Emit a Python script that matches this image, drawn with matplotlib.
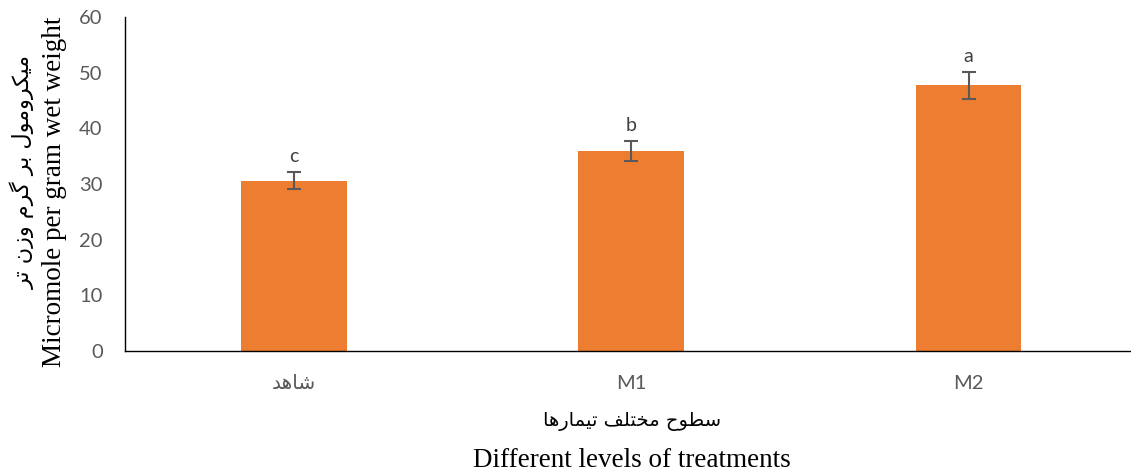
import matplotlib
matplotlib.use("Agg")
from matplotlib import pyplot as plt
import numpy as np

# data
categories = ["شاهد", "M1", "M2"]
values = [30.6, 35.9, 47.7]
errors = [1.5, 1.8, 2.4]
letters = ["c", "b", "a"]
y_ticks = [0, 10, 20, 30, 40, 50, 60]

xlabel_fa = "سطوح مختلف تیمارها"
xlabel_en = "Different levels of treatments"
ylabel_fa = "میکرومول بر گرم وزن تر"
ylabel_en = "Micromole per gram wet weight"

# matplotlib does no arabic shaping, so map letters to presentation forms
# forms: isolated, final, initial, medial (None = does not join to the left)
FORMS = {
    "ا": ("\uFE8D", "\uFE8E", None, None),
    "ب": ("\uFE8F", "\uFE90", "\uFE91", "\uFE92"),
    "ت": ("\uFE95", "\uFE96", "\uFE97", "\uFE98"),
    "ح": ("\uFEA1", "\uFEA2", "\uFEA3", "\uFEA4"),
    "خ": ("\uFEA5", "\uFEA6", "\uFEA7", "\uFEA8"),
    "د": ("\uFEA9", "\uFEAA", None, None),
    "ر": ("\uFEAD", "\uFEAE", None, None),
    "ز": ("\uFEAF", "\uFEB0", None, None),
    "س": ("\uFEB1", "\uFEB2", "\uFEB3", "\uFEB4"),
    "ش": ("\uFEB5", "\uFEB6", "\uFEB7", "\uFEB8"),
    "ط": ("\uFEC1", "\uFEC2", "\uFEC3", "\uFEC4"),
    "ف": ("\uFED1", "\uFED2", "\uFED3", "\uFED4"),
    "ل": ("\uFEDD", "\uFEDE", "\uFEDF", "\uFEE0"),
    "م": ("\uFEE1", "\uFEE2", "\uFEE3", "\uFEE4"),
    "ن": ("\uFEE5", "\uFEE6", "\uFEE7", "\uFEE8"),
    "ه": ("\uFEE9", "\uFEEA", "\uFEEB", "\uFEEC"),
    "و": ("\uFEED", "\uFEEE", None, None),
    "ی": ("\uFBFC", "\uFBFD", "\uFBFE", "\uFBFF"),
    "ک": ("\uFB8E", "\uFB8F", "\uFB90", "\uFB91"),
    "گ": ("\uFB92", "\uFB93", "\uFB94", "\uFB95"),
}


def shape(text):
    out = []
    for i, ch in enumerate(text):
        if ch not in FORMS:
            out.append(ch)
            continue
        prev = text[i - 1] if i > 0 else ""
        nxt = text[i + 1] if i + 1 < len(text) else ""
        joins_prev = prev in FORMS and FORMS[prev][2] is not None
        joins_next = nxt in FORMS and FORMS[ch][2] is not None
        iso, fin, ini, med = FORMS[ch]
        if joins_prev and joins_next:
            out.append(med)
        elif joins_prev:
            out.append(fin)
        elif joins_next:
            out.append(ini)
        else:
            out.append(iso)
    return "".join(out)[::-1]  # right to left


def fa(text):
    if any(c in FORMS for c in text):
        return shape(text)
    return text


plt.rcParams["font.family"] = ["Lato", "DejaVu Sans"]

fig = plt.figure(figsize=(11.31, 4.73), dpi=100)
ax = fig.add_axes([0.1105, 0.258, 0.895, 0.706])

x = np.arange(len(categories))
ax.bar(x, values, width=0.314, color="#ED7D31", zorder=2)
ax.errorbar(x, values, yerr=errors, fmt="none", ecolor="#595959",
            elinewidth=1.5, capsize=5, capthick=1.5, zorder=3)

for xi, v, e, l in zip(x, values, errors, letters):
    ax.annotate(l, (xi, v + e), xytext=(0, 5), textcoords="offset points",
                ha="center", va="bottom", fontsize=14, color="#404040")

ax.set_xlim(-0.5, 2.5)
ax.set_ylim(0, 60)
ax.set_yticks(y_ticks)
ax.set_xticks(x)
ax.set_xticklabels([fa(c) for c in categories], family=["Lato", "DejaVu Sans"])
ax.tick_params(axis="both", length=0, labelsize=14.5, labelcolor="#595959")
ax.tick_params(axis="x", pad=17)
ax.tick_params(axis="y", pad=16)

for s in ["top", "right"]:
    ax.spines[s].set_visible(False)
for s in ["left", "bottom"]:
    ax.spines[s].set_color("#000000")
    ax.spines[s].set_linewidth(1.0)

# two-line axis titles: persian above, english below
fig.text(0.559, 0.108, fa(xlabel_fa), ha="center", va="center",
         fontsize=14, family=["DejaVu Sans"])
fig.text(0.559, 0.027, xlabel_en, ha="center", va="center",
         fontsize=19.5, family=["Liberation Serif"])
fig.text(0.0195, 0.636, fa(ylabel_fa), ha="center", va="center", rotation=90,
         fontsize=16, family=["DejaVu Sans"])
fig.text(0.0486, 0.594, ylabel_en, ha="center", va="center", rotation=90,
         fontsize=19.5, family=["Liberation Serif"])

plt.savefig("out.png", dpi=100)
plt.close()
